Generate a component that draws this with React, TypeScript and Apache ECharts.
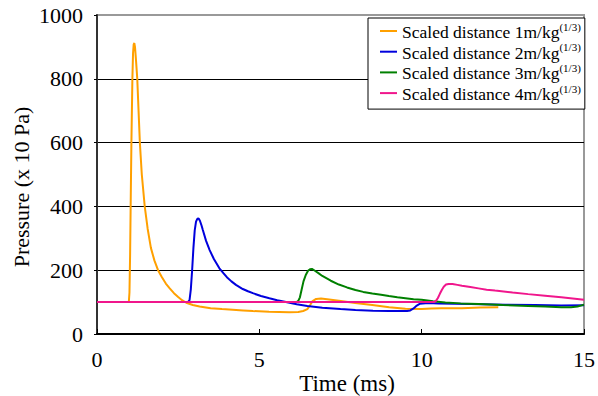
import React, { useEffect, useRef } from "react";
import * as echarts from "echarts";

const seriesNames = [
  "Scaled distance 1m/kg",
  "Scaled distance 2m/kg",
  "Scaled distance 3m/kg",
  "Scaled distance 4m/kg",
];
const supText = "(1/3)";
const colors = ["#FFA000", "#0000DD", "#008000", "#F0168C"];

const xTicks = [0, 5, 10, 15];
const yTicks = [0, 200, 400, 600, 800, 1000];

const s1: number[][] = [
  [0, 100], [0.98, 100], [1.0, 130], [1.02, 250], [1.04, 430], [1.06, 600], [1.09, 800],
  [1.11, 880], [1.13, 908], [1.15, 912], [1.17, 900], [1.2, 860], [1.24, 800], [1.28, 700],
  [1.32, 600], [1.38, 500], [1.47, 400], [1.56, 330], [1.66, 270], [1.77, 230], [1.88, 200],
  [2.0, 178], [2.12, 158], [2.24, 143], [2.37, 128], [2.5, 116], [2.62, 106], [2.75, 98],
  [2.95, 91], [3.16, 86], [3.5, 81], [3.85, 78], [4.18, 76], [4.5, 74], [4.8, 72], [5.3, 70],
  [5.92, 68], [6.2, 69], [6.35, 72], [6.48, 78], [6.56, 90], [6.64, 103], [6.75, 110],
  [6.9, 111], [7.15, 108], [7.45, 104], [7.95, 97], [8.48, 91], [9.0, 84], [9.5, 79],
  [10.0, 78], [10.3, 80], [10.6, 81], [11.24, 81], [11.8, 83], [12.36, 84],
];
const s2: number[][] = [
  [0, 100], [2.8, 100], [2.85, 106], [2.89, 140], [2.93, 200], [2.97, 270], [3.01, 325],
  [3.05, 352], [3.09, 361], [3.13, 362], [3.17, 355], [3.22, 340], [3.26, 326], [3.36, 292],
  [3.47, 263], [3.6, 235], [3.77, 206], [3.9, 190], [4.0, 178], [4.14, 165], [4.28, 154],
  [4.49, 141], [4.65, 134], [4.8, 128], [5.05, 119], [5.31, 112], [5.55, 106], [5.82, 100],
  [6.15, 93], [6.48, 88], [6.94, 82], [7.5, 78], [7.96, 75], [8.5, 73], [8.99, 72], [9.55, 72],
  [9.65, 74], [9.75, 80], [9.85, 89], [9.95, 95], [10.2, 97], [10.52, 96], [11.5, 94],
  [12.57, 92], [13.5, 91], [14.3, 89], [15, 90],
];
const s3: number[][] = [
  [0, 100], [6.15, 100], [6.2, 104], [6.25, 115], [6.3, 138], [6.36, 165], [6.43, 185],
  [6.5, 198], [6.56, 203], [6.62, 204], [6.7, 199], [6.82, 191], [6.94, 182], [7.2, 167],
  [7.45, 155], [7.7, 146], [7.96, 138], [8.2, 132], [8.48, 127], [8.75, 123], [8.99, 119],
  [9.25, 115], [9.5, 112], [9.75, 109], [10.0, 107], [10.35, 103], [10.73, 99], [11.2, 96],
  [11.75, 94], [12.5, 91], [13.28, 88], [13.8, 86], [14.3, 84], [14.6, 84], [14.8, 86],
  [14.9, 89], [15, 92],
];
const s4: number[][] = [
  [0, 100], [10.38, 100], [10.44, 104], [10.5, 113], [10.56, 126], [10.62, 138], [10.68, 148],
  [10.75, 155], [10.83, 157], [10.95, 157], [11.1, 154], [11.24, 151], [11.5, 147],
  [11.75, 143], [12.0, 139], [12.26, 136], [12.8, 130], [13.28, 125], [13.8, 120], [14.3, 115],
  [14.65, 111], [15, 107],
];
const allSeries = [s1, s2, s3, s4];

const FONT = "Liberation Serif";

export default function App() {
  const ref = useRef<HTMLDivElement>(null);
  useEffect(() => {
    document.body.style.margin = "0";
    const chart = echarts.init(ref.current!, null, { renderer: "svg" });
    chart.setOption({
      animation: false,
      backgroundColor: "#fff",
      textStyle: { fontFamily: FONT },
      grid: {
        left: 97,
        right: 12,
        top: 15,
        bottom: 62,
        show: true,
        borderColor: "#999",
        borderWidth: 2,
        backgroundColor: "transparent",
      },
      xAxis: {
        type: "value",
        min: xTicks[0],
        max: xTicks[xTicks.length - 1],
        interval: 5,
        axisLine: { show: true, onZero: false, lineStyle: { color: "#000", width: 2 } },
        axisTick: { show: true, inside: true, length: 5, lineStyle: { color: "#000", width: 1 } },
        axisLabel: {
          color: "#000",
          fontFamily: FONT,
          fontSize: 22,
          margin: 14,
          formatter: (v: number) => String(v),
        },
        splitLine: { show: false },
      },
      yAxis: {
        type: "value",
        min: yTicks[0],
        max: yTicks[yTicks.length - 1],
        interval: 200,
        axisLine: { show: true, lineStyle: { color: "#333", width: 2 } },
        axisTick: { show: true, inside: false, length: 3, lineStyle: { color: "#000" } },
        axisLabel: {
          color: "#000",
          fontFamily: FONT,
          fontSize: 22,
          margin: 14,
          formatter: (v: number) => String(v),
        },
        splitLine: {
          show: true,
          lineStyle: { color: ["#999", "#000", "#000", "#000", "#000", "#999"], width: 1 },
        },
      },
      legend: {
        orient: "vertical",
        left: 368,
        top: 18,
        data: seriesNames,
        icon: "rect",
        itemWidth: 17,
        itemHeight: 2,
        itemGap: 0.7,
        padding: [3, 4, 6, 12],
        borderColor: "#000",
        borderWidth: 1,
        backgroundColor: "#fff",
        formatter: (name: string) => `{t|${name}}{s|${supText}}`,
        textStyle: {
          color: "#000",
          fontFamily: FONT,
          rich: {
            t: { fontFamily: FONT, fontSize: 17.5, lineHeight: 20, verticalAlign: "bottom", color: "#000" },
            s: { fontFamily: FONT, fontSize: 11, lineHeight: 11, verticalAlign: "top", color: "#000" },
          },
        },
      },
      graphic: [
        {
          type: "text",
          x: 21,
          y: 187,
          rotation: Math.PI / 2,
          style: {
            text: "Pressure (x 10 Pa)",
            fontFamily: FONT,
            fontSize: 22,
            fill: "#000",
            textAlign: "center",
            textVerticalAlign: "middle",
          },
        },
        {
          type: "text",
          x: 347,
          y: 383,
          style: {
            text: "Time (ms)",
            fontFamily: FONT,
            fontSize: 23,
            fill: "#000",
            textAlign: "center",
            textVerticalAlign: "middle",
          },
        },
      ],
      series: allSeries.map((d, i) => ({
        name: seriesNames[i],
        type: "line",
        data: d,
        showSymbol: false,
        symbol: "none",
        smooth: false,
        lineStyle: { color: colors[i], width: 2 },
        itemStyle: { color: colors[i] },
      })),
    });
    return () => chart.dispose();
  }, []);
  return <div ref={ref} style={{ width: 598, height: 396 }} />;
}
